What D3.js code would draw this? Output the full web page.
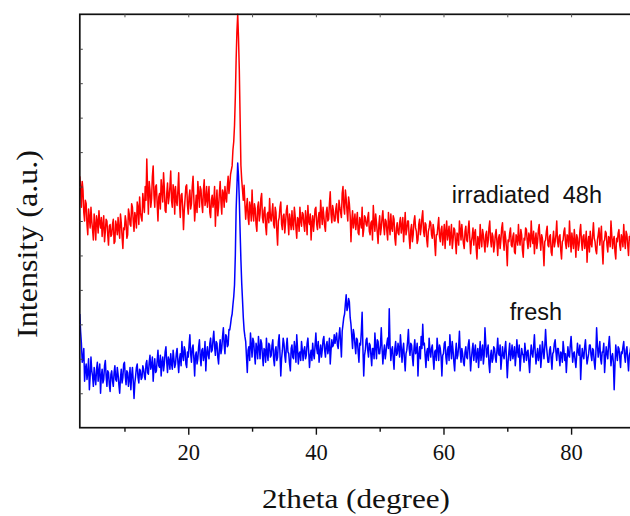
<!DOCTYPE html>
<html>
<head>
<meta charset="utf-8">
<script src="https://cdnjs.cloudflare.com/ajax/libs/d3/7.8.5/d3.min.js"></script>
<style>
  body { margin: 0; background: #fff; }
  svg { display: block; }
</style>
</head>
<body>
<div id="plot"></div>
<script>
// ----- DATA ------------------------//
// scan: 2theta from 3 to 90 deg, step 0.125 deg (counts in a.u.), one row = 5 deg
const twoThetaStart = 3;
const twoThetaStep = 0.125;

const irradiatedCounts = [
  730, 700, 640, 715, 690, 625, 600, 660, 650, 590, 560, 635, 610, 580, 640, 600, 575, 545, 620, 590, 545, 615, 600, 565, 630, 595, 580, 610, 555, 590, 615, 540, 570, 605, 600, 560, 530, 585, 590, 555,
  560, 590, 605, 535, 540, 600, 585, 560, 610, 575, 550, 620, 595, 555, 520, 580, 575, 615, 600, 550, 560, 635, 620, 590, 585, 650, 640, 600, 570, 625, 610, 580, 655, 640, 590, 670, 625, 610, 600, 680,
  650, 625, 700, 660, 780, 690, 620, 715, 690, 640, 665, 730, 760, 675, 640, 700, 705, 650, 600, 670, 680, 635, 720, 690, 655, 740, 695, 630, 625, 680, 710, 650, 670, 700, 745, 660, 640, 705, 690, 620,
  700, 660, 645, 690, 740, 650, 610, 675, 680, 640, 575, 630, 665, 700, 705, 645, 620, 670, 690, 635, 650, 700, 730, 665, 600, 640, 675, 625, 715, 680, 640, 700, 690, 650, 625, 690, 720, 645, 660, 700,
  640, 670, 700, 625, 610, 660, 675, 640, 655, 700, 585, 650, 690, 615, 640, 680, 715, 655, 620, 690, 680, 640, 700, 670, 655, 700, 730, 680, 705, 735, 748, 760, 806, 830, 878, 960, 1067, 1150, 1200, 1130,
  1038, 900, 762, 720, 690, 660, 704, 650, 605, 640, 665, 610, 590, 655, 640, 600, 690, 625, 600, 650, 635, 590, 570, 640, 655, 600, 620, 665, 680, 610, 595, 630, 640, 585, 560, 620, 625, 595, 665, 610,
  600, 625, 650, 590, 580, 640, 625, 570, 530, 600, 610, 640, 655, 590, 575, 615, 620, 565, 595, 630, 645, 600, 560, 620, 600, 575, 630, 590, 575, 640, 615, 580, 550, 610, 605, 570, 640, 600, 585, 625,
  620, 590, 570, 630, 605, 560, 645, 600, 590, 620, 545, 595, 615, 570, 600, 635, 640, 590, 575, 610, 625, 580, 660, 620, 590, 640, 615, 585, 570, 625, 640, 600, 605, 650, 685, 620, 595, 645, 630, 600,
  600, 635, 650, 610, 595, 660, 640, 625, 610, 680, 700, 640, 620, 690, 665, 630, 600, 670, 650, 615, 540, 600, 630, 580, 600, 620, 575, 600, 625, 565, 560, 610, 600, 580, 640, 555, 575, 615, 610, 590,
  585, 610, 625, 570, 560, 595, 600, 545, 645, 600, 570, 620, 595, 565, 535, 590, 615, 560, 580, 610, 630, 585, 560, 605, 600, 570, 545, 625, 590, 560, 620, 580, 570, 615, 605, 550, 530, 580, 595, 565,
  560, 595, 610, 565, 585, 610, 540, 580, 625, 560, 575, 600, 600, 550, 520, 575, 590, 540, 560, 600, 615, 580, 570, 535, 545, 590, 605, 560, 580, 610, 630, 570, 555, 595, 590, 545, 525, 570, 580, 600,
  595, 560, 550, 590, 575, 535, 500, 560, 560, 585, 610, 555, 540, 575, 585, 530, 555, 590, 520, 570, 600, 545, 565, 585, 530, 560, 590, 520, 545, 580, 575, 540, 505, 565, 560, 530, 600, 575, 545, 590,
  560, 535, 520, 570, 585, 545, 540, 575, 600, 550, 505, 540, 555, 580, 530, 565, 575, 520, 490, 555, 545, 520, 590, 550, 525, 575, 560, 535, 510, 560, 570, 525, 540, 580, 600, 545, 525, 565, 555, 510,
  530, 560, 575, 540, 500, 550, 560, 520, 545, 580, 595, 545, 515, 570, 550, 520, 470, 545, 540, 565, 580, 530, 525, 555, 565, 510, 505, 560, 550, 530, 590, 545, 530, 575, 560, 515, 495, 550, 545, 580,
  575, 540, 520, 565, 555, 525, 600, 550, 535, 570, 505, 545, 565, 520, 540, 575, 590, 545, 515, 560, 550, 520, 470, 540, 545, 570, 585, 530, 525, 555, 560, 510, 500, 545, 570, 525, 540, 560, 600, 540,
  525, 555, 560, 515, 490, 540, 545, 570, 580, 535, 520, 560, 555, 525, 600, 550, 510, 565, 540, 520, 575, 545, 495, 560, 550, 515, 530, 570, 590, 540, 515, 555, 560, 520, 535, 570, 480, 535, 555, 510,
  570, 535, 525, 560, 595, 550, 540, 515, 505, 545, 560, 580, 530, 555, 585, 520, 475, 540, 545, 570, 565, 530, 510, 555, 550, 525, 600, 560, 520, 545, 555, 510, 490, 550, 540, 565, 575, 530, 515, 560,
  550, 525, 590, 545, 520, 570, 560, 530, 500, 555, 545, 575, 580, 540, 530, 565, 555
];

const freshCounts = [
  330, 280, 245, 190, 200, 230, 135, 170, 185, 140, 160, 200, 110, 150, 205, 165, 150, 120, 175, 145, 125, 170, 190, 135, 165, 185, 100, 150, 170, 130, 140, 180, 195, 150, 120, 165, 160, 125, 105, 155,
  165, 135, 120, 160, 180, 140, 135, 175, 155, 125, 100, 145, 170, 130, 145, 185, 190, 150, 125, 165, 160, 120, 140, 175, 110, 150, 175, 135, 85, 130, 150, 175, 185, 145, 130, 170, 165, 140, 145, 180,
  170, 150, 140, 185, 195, 160, 155, 190, 210, 170, 180, 205, 135, 175, 200, 160, 165, 195, 225, 180, 175, 210, 150, 190, 205, 165, 185, 220, 235, 190, 160, 205, 195, 170, 215, 185, 170, 225, 200, 175,
  185, 215, 230, 190, 160, 200, 215, 180, 250, 210, 195, 235, 225, 185, 175, 220, 205, 240, 270, 215, 190, 230, 240, 200, 150, 210, 220, 185, 200, 235, 255, 205, 180, 225, 230, 195, 210, 250, 165, 215,
  235, 210, 200, 245, 260, 220, 225, 255, 280, 235, 210, 250, 245, 205, 185, 230, 255, 215, 230, 265, 290, 240, 215, 270, 265, 235, 240, 285, 284, 300, 319, 330, 357, 380, 415, 500, 632, 700, 768, 730,
  661, 570, 487, 420, 371, 320, 284, 265, 250, 205, 160, 225, 235, 195, 275, 240, 205, 260, 250, 215, 185, 245, 230, 200, 265, 235, 200, 255, 245, 210, 180, 230, 225, 190, 260, 215, 195, 245, 240, 205,
  210, 240, 255, 200, 180, 225, 235, 195, 205, 250, 270, 215, 150, 200, 225, 260, 245, 210, 190, 235, 260, 220, 215, 185, 165, 230, 240, 205, 200, 250, 230, 190, 270, 230, 185, 215, 220, 195, 250, 225,
  195, 225, 235, 200, 210, 245, 260, 220, 175, 210, 225, 195, 245, 215, 200, 240, 275, 230, 215, 250, 190, 220, 240, 205, 225, 255, 265, 225, 205, 240, 250, 215, 230, 260, 185, 225, 255, 235, 240, 270,
  245, 260, 275, 240, 230, 265, 290, 250, 205, 280, 300, 320, 330, 360, 386, 340, 350, 375, 365, 320, 300, 265, 230, 285, 270, 240, 215, 260, 255, 220, 190, 245, 240, 280, 335, 230, 150, 210, 225, 255,
  260, 225, 205, 245, 240, 210, 180, 230, 230, 200, 275, 235, 200, 255, 250, 215, 215, 240, 290, 230, 185, 220, 240, 200, 220, 245, 260, 230, 345, 240, 195, 225, 235, 200, 170, 230, 250, 210, 215, 245,
  230, 205, 270, 235, 190, 225, 245, 200, 165, 215, 225, 250, 285, 230, 210, 245, 240, 205, 180, 230, 255, 215, 220, 245, 150, 210, 235, 200, 265, 230, 300, 240, 245, 210, 175, 220, 230, 195, 260, 225,
  205, 230, 240, 200, 170, 220, 225, 195, 260, 230, 195, 240, 230, 205, 150, 210, 215, 245, 250, 205, 185, 225, 235, 195, 270, 230, 200, 250, 225, 190, 165, 215, 245, 200, 210, 235, 280, 220, 190, 230,
  215, 190, 180, 220, 235, 205, 200, 240, 255, 215, 165, 200, 225, 245, 195, 220, 240, 190, 210, 230, 175, 215, 250, 195, 220, 240, 185, 210, 290, 245, 205, 225, 240, 185, 160, 210, 225, 190, 200, 235,
  230, 205, 190, 225, 260, 215, 210, 240, 170, 200, 235, 210, 200, 230, 250, 200, 145, 190, 220, 245, 195, 215, 240, 200, 215, 235, 180, 210, 255, 220, 205, 240, 165, 200, 230, 215, 210, 190, 245, 220,
  195, 220, 225, 190, 160, 210, 240, 215, 205, 235, 270, 220, 185, 210, 230, 195, 210, 240, 175, 205, 250, 225, 200, 235, 285, 240, 215, 190, 190, 225, 235, 200, 170, 215, 220, 245, 255, 220, 195, 230,
  230, 205, 180, 220, 215, 190, 250, 225, 195, 215, 160, 200, 235, 210, 205, 240, 265, 225, 190, 215, 220, 195, 175, 210, 245, 220, 210, 240, 140, 195, 230, 210, 200, 235, 255, 215, 185, 200, 215, 240,
  240, 210, 195, 230, 225, 190, 170, 215, 290, 240, 205, 225, 250, 200, 185, 220, 220, 245, 160, 200, 235, 215, 200, 240, 265, 225, 180, 205, 215, 190, 110, 180, 240, 215, 195, 235, 230, 205, 175, 220,
  215, 235, 250, 210, 190, 225, 235, 200, 165, 210, 220, 240, 260, 225, 200, 215, 230
];

const xMajorTicks = [20, 40, 60, 80];
const xMinorTicks = [10, 30, 50, 70];
const xTopTicks = [10, 20, 30, 40, 50, 60, 70, 80];
const yTicks = [100, 200, 300, 400, 500, 600, 700, 800, 900, 1000, 1100];

// ----- LAYOUT ------------------------//
const width = 630;
const height = 516;
const plotLeft = 79.8, plotRight = 634.9, plotTop = 14.3, plotBottom = 427.7;
const serif = "'Liberation Serif', 'Times New Roman', serif";
const sans = "'Liberation Sans', Arial, sans-serif";

var svg = d3.select("#plot").append("svg")
    .attr("width", width)
    .attr("height", height);

const xScl = d3.scaleLinear().domain([3, 90]).range([plotLeft, plotRight]);
const yScl = d3.scaleLinear().domain([0, 1200]).range([plotBottom, plotTop]);

const toPoints = vals => vals.map((v, i) => ({
    angle: twoThetaStart + i * twoThetaStep,
    counts: v
}));

const line = d3.line()
    .x(d => xScl(d.angle))
    .y(d => yScl(d.counts));

// red on bottom, blue drawn over it
svg.append("path")
    .attr("d", line(toPoints(irradiatedCounts)))
    .attr("fill", "none")
    .attr("stroke", "#ff0000")
    .attr("stroke-width", 1.5)
    .attr("stroke-linejoin", "round");

svg.append("path")
    .attr("d", line(toPoints(freshCounts)))
    .attr("fill", "none")
    .attr("stroke", "#0000ff")
    .attr("stroke-width", 1.5)
    .attr("stroke-linejoin", "round");

// frame
svg.append("rect")
    .attr("x", plotLeft)
    .attr("y", plotTop)
    .attr("width", plotRight - plotLeft)
    .attr("height", plotBottom - plotTop)
    .attr("fill", "none")
    .attr("stroke", "#111")
    .attr("stroke-width", 1.7);

// bottom axis: major ticks with labels
const xAxisMajor = svg.append("g")
    .attr("transform", "translate(0," + plotBottom + ")")
    .call(d3.axisBottom(xScl).tickValues(xMajorTicks).tickSize(7).tickFormat(d3.format("d")));
xAxisMajor.select(".domain").remove();
xAxisMajor.selectAll("line").attr("stroke", "#111").attr("stroke-width", 1.4);
xAxisMajor.selectAll("text")
    .attr("y", 32.5)
    .attr("dy", null)
    .attr("fill", "#111")
    .style("font-family", serif)
    .style("font-size", "22.5px");

const xAxisMinor = svg.append("g")
    .attr("transform", "translate(0," + plotBottom + ")")
    .call(d3.axisBottom(xScl).tickValues(xMinorTicks).tickSize(4).tickFormat(""));
xAxisMinor.select(".domain").remove();
xAxisMinor.selectAll("line").attr("stroke", "#111").attr("stroke-width", 1.4);

// top ticks pointing inwards
const xAxisTop = svg.append("g")
    .attr("transform", "translate(0," + plotTop + ")")
    .call(d3.axisBottom(xScl).tickValues(xTopTicks).tickSize(3).tickFormat(""));
xAxisTop.select(".domain").remove();
xAxisTop.selectAll("line").attr("stroke", "#555");

// left ticks pointing inwards
const yAxis = svg.append("g")
    .attr("transform", "translate(" + plotLeft + ",0)")
    .call(d3.axisRight(yScl).tickValues(yTicks).tickSize(3).tickFormat(""));
yAxis.select(".domain").remove();
yAxis.selectAll("line").attr("stroke", "#444");

// axis titles
svg.append("text")
    .attr("x", 356)
    .attr("y", 508)
    .attr("text-anchor", "middle")
    .attr("textLength", 188)
    .attr("lengthAdjust", "spacingAndGlyphs")
    .style("font-family", serif)
    .style("font-size", "27px")
    .attr("fill", "#111")
    .text("2theta (degree)");

svg.append("text")
    .attr("transform", "translate(36.5,244) rotate(-90)")
    .attr("text-anchor", "middle")
    .attr("textLength", 188)
    .attr("lengthAdjust", "spacingAndGlyphs")
    .style("font-family", serif)
    .style("font-size", "29px")
    .attr("fill", "#111")
    .text("Intensity (a.u.)");

// series labels
svg.append("text")
    .attr("x", xScl(61.3))
    .attr("y", yScl(652))
    .style("font-family", sans)
    .style("font-size", "23.5px")
    .style("white-space", "pre")
    .attr("fill", "#111")
    .text("irradiated  48h");

svg.append("text")
    .attr("x", xScl(70.4))
    .attr("y", yScl(313))
    .style("font-family", sans)
    .style("font-size", "23.5px")
    .attr("fill", "#111")
    .text("fresh");
</script>
</body>
</html>
